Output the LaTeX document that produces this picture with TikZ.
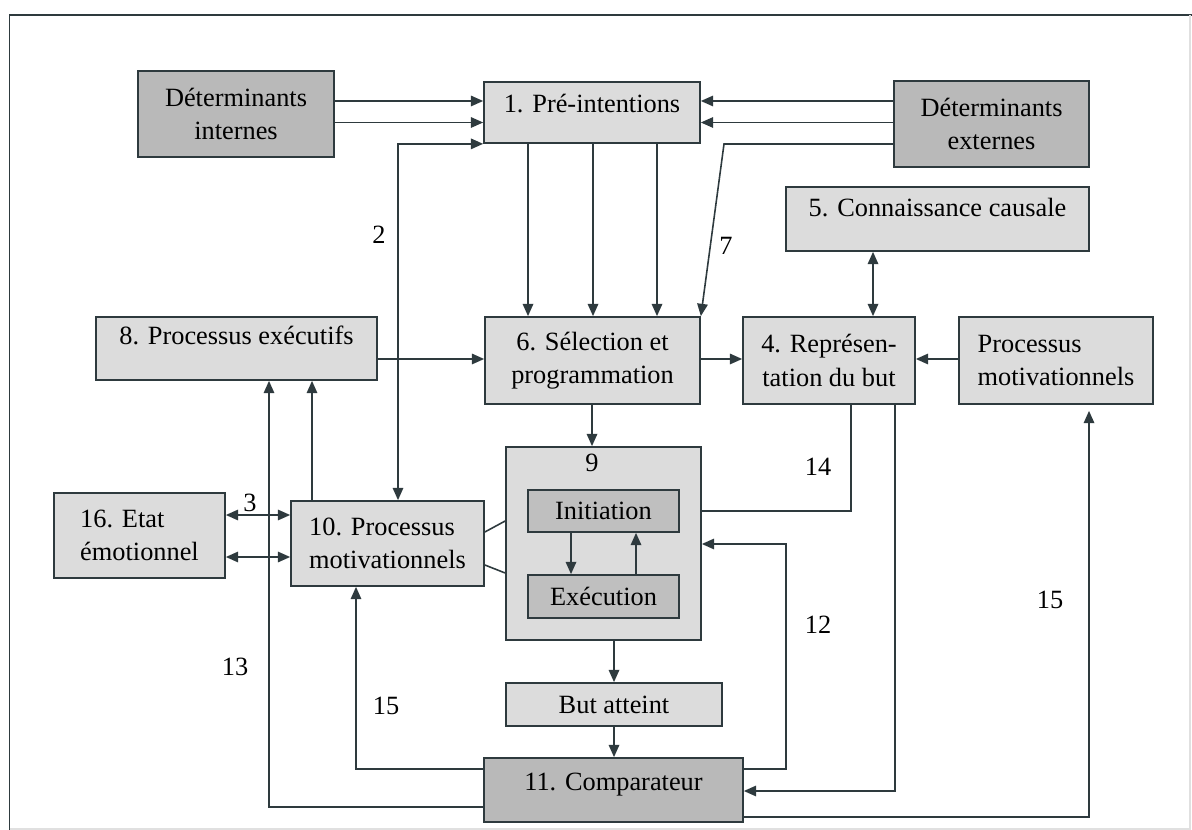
\documentclass[tikz,border=0pt]{standalone}
\usepackage{fontspec}
\setmainfont{Liberation Serif}
\usepackage{tikz}
\usetikzlibrary{arrows.meta}
\definecolor{edgec}{HTML}{2E3A3E}
\definecolor{boxlight}{HTML}{DCDCDC}
\definecolor{boxdark}{HTML}{B9B9B9}
\definecolor{boxmid}{HTML}{BFBFBF}

\begin{document}
\begin{tikzpicture}[x=0.02cm,y=-0.02cm,
  font=\fontsize{15}{19}\selectfont,
  lbox/.style={draw=edgec, line width=1pt, fill=boxlight, inner sep=0pt, align=center},
  dbox/.style={lbox, fill=boxdark},
  ibox/.style={lbox, fill=boxmid},
  ln/.style={edgec, line width=0.9pt},
  arr/.style={ln, -{Triangle[length=7pt,width=6pt]}},
  arrb/.style={ln, {Triangle[length=7pt,width=6pt]}-{Triangle[length=7pt,width=6pt]}},
  num/.style={inner sep=0pt}]

\useasboundingbox (0,0) rectangle (1192,830);

% frame
\draw[edgec, line width=1pt] (9.5,830) -- (9.5,15) -- (1192,15);
\draw[black!12, line width=0.8pt] (9.5,829) -- (1190,829) -- (1190,15);

% boxes
\node[dbox, minimum width=3.92cm, minimum height=1.72cm] (detint) at (236,114) {Déterminants\\internes};
\node[lbox, minimum width=4.32cm, minimum height=1.22cm, text height=11pt, text depth=11pt] (preint) at (592,112.5) {1. Pré-intentions};
\node[dbox, minimum width=3.9cm, minimum height=1.72cm] (detext) at (991.5,124) {Déterminants\\externes};
\node[lbox, minimum width=6.06cm, minimum height=1.28cm, text height=11pt, text depth=14pt] (causal) at (937.5,219) {5. Connaissance causale};

\node[lbox, minimum width=5.62cm, minimum height=1.26cm, text height=11pt, text depth=15pt] (execp) at (236.5,348.5) {8. Processus exécutifs};
\node[lbox, minimum width=4.3cm, minimum height=1.74cm] (selprog) at (592.5,360.5) {6. Sélection et\\programmation};
\node[lbox, minimum width=3.44cm, minimum height=1.74cm] (repbut) at (829,360.5) {4. Représen-\\tation du but};
\node[lbox, minimum width=3.88cm, minimum height=1.74cm, align=left] (motivr) at (1056,360.5) {Processus\\motivationnels};

\node[lbox, minimum width=3.9cm, minimum height=3.86cm] (nine) at (603.5,543.5) {};
\node[num] (ninelbl) at (592,463) {9};
\node[ibox, minimum width=3.02cm, minimum height=0.84cm] (init) at (603.5,511) {Initiation};
\node[ibox, minimum width=3.02cm, minimum height=0.86cm] (exec) at (603.5,596.5) {Exécution};

\node[lbox, minimum width=3.42cm, minimum height=1.7cm, align=left] (emot) at (139.5,535.5) {16. Etat\\émotionnel};
\node[lbox, minimum width=3.86cm, minimum height=1.7cm, align=left] (motivc) at (387.5,543.5) {10. Processus\\motivationnels};

\node[lbox, minimum width=4.32cm, minimum height=0.86cm] (butatt) at (614,704.5) {But atteint};
\node[dbox, minimum width=5.18cm, minimum height=1.28cm, text height=11pt, text depth=10pt] (compar) at (613.5,790) {11. Comparateur};

% top arrows
\draw[arr] (detint.east |- 0,101) -- (preint.west |- 0,101);
\draw[arr] (detint.east |- 0,122.5) -- (preint.west |- 0,122.5);
\draw[arr] (detext.west |- 0,101) -- (preint.east |- 0,101);
\draw[arr] (detext.west |- 0,122.5) -- (preint.east |- 0,122.5);
\draw[arrb] (motivc.north -| 398,0) |- (preint.south west);
\draw[arr] (detext.west |- 0,144) -- (724,144) -- (selprog.north east);

\draw[arr] (preint.south -| 528,0) -- (selprog.north -| 528,0);
\draw[arr] (preint.south -| 593,0) -- (selprog.north -| 593,0);
\draw[arr] (preint.south -| 657,0) -- (selprog.north -| 657,0);
\draw[arrb] (causal.south -| 873,0) -- (repbut.north -| 873,0);

% middle row
\draw[arr] (execp.east |- 0,359) -- (selprog.west |- 0,359);
\draw[arr] (selprog.east |- 0,359) -- (repbut.west |- 0,359);
\draw[arr] (motivr.west |- 0,359) -- (repbut.east |- 0,359);
\draw[arr] (selprog.south -| 592,0) -- (nine.north -| 592,0);
\draw[arr] (motivc.north -| 312,0) -- (execp.south -| 312,0);

\draw[arrb] (emot.east |- 0,515) -- (motivc.west |- 0,515);
\draw[arrb] (emot.east |- 0,557) -- (motivc.west |- 0,557);
\draw[ln] (motivc.east |- 0,532) -- (nine.west |- 0,521);
\draw[ln] (motivc.east |- 0,565) -- (nine.west |- 0,573);

\draw[arr] (init.south -| 571,0) -- (exec.north -| 571,0);
\draw[arr] (exec.north -| 636,0) -- (init.south -| 636,0);
\draw[ln] (repbut.south -| 851,0) |- (nine.east |- 0,511);

% bottom loops
\draw[arr] (nine.south -| 614,0) -- (butatt.north -| 614,0);
\draw[arr] (butatt.south -| 614,0) -- (compar.north -| 614,0);
\draw[arr] (compar.west |- 0,807) -| (execp.south -| 269,0);
\draw[arr] (compar.west |- 0,769) -| (motivc.south -| 356,0);
\draw[arr] (compar.east |- 0,769) -| (786,544) -- (nine.east |- 0,544);
\draw[arr] (repbut.south -| 895,0) |- (compar.east |- 0,791);
\draw[arr, shorten >=0.12cm] (compar.east |- 0,817) -| (motivr.south -| 1089,0);

% numbers
\node[num] (ltwo) at (379,235) {2};
\node[num] (lseven) at (726,246) {7};
\node[num] (lthree) at (250,503) {3};
\node[num] (lfourteen) at (818,467) {14};
\node[num] (ltwelve) at (818,625) {12};
\node[num] (lfifteenr) at (1050,600) {15};
\node[num] (lthirteen) at (235,667) {13};
\node[num] (lfifteenl) at (386,706) {15};

\end{tikzpicture}
\end{document}
